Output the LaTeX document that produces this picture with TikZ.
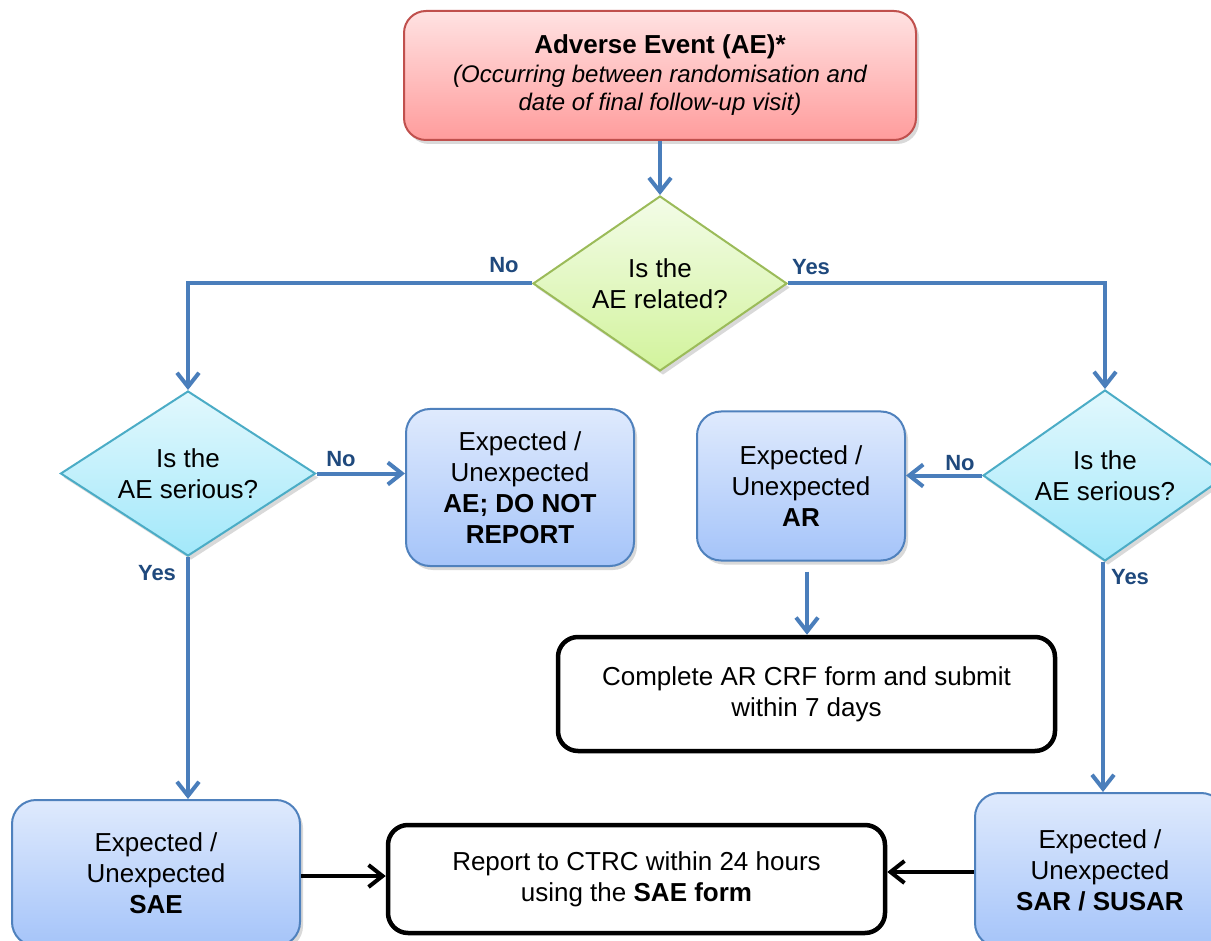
\documentclass[tikz,border=0pt]{standalone}
\usepackage{fontspec}
\setmainfont{Liberation Sans}
\usetikzlibrary{shapes.geometric,arrows.meta,shadows,calc}
\definecolor{redtop}{HTML}{FFE2E2}
\definecolor{redbot}{HTML}{FF9C9C}
\definecolor{redline}{HTML}{C0504D}
\definecolor{greentop}{HTML}{F3FCE8}
\definecolor{greenbot}{HTML}{D2F39C}
\definecolor{greenline}{HTML}{9BBB59}
\definecolor{cyantop}{HTML}{E2F8FD}
\definecolor{cyanbot}{HTML}{A2E8FA}
\definecolor{cyanline}{HTML}{4BACC6}
\definecolor{bluetop}{HTML}{DFEAFD}
\definecolor{bluebot}{HTML}{A5C4F9}
\definecolor{blueline}{HTML}{4F81BD}
\definecolor{arrowblue}{HTML}{4A7EBB}
\definecolor{labelblue}{HTML}{1F497D}
\tikzset{
  txt/.style={font=\fontsize{26}{31}\selectfont, align=center},
  shad/.style={drop shadow={shadow xshift=3pt, shadow yshift=-4pt, opacity=0.25, fill=black!60}},
  redbox/.style={txt, rounded corners=22pt, draw=redline, line width=2pt, top color=redtop, bottom color=redbot, shad},
  bluebox/.style={txt, rounded corners=24pt, draw=blueline, line width=2pt, top color=bluetop, bottom color=bluebot, shad},
  greendia/.style={txt, diamond, aspect=1.5, inner sep=0pt, draw=greenline, line width=2pt, top color=greentop, bottom color=greenbot, shad},
  cyandia/.style={txt, diamond, aspect=1.5, inner sep=0pt, draw=cyanline, line width=2pt, top color=cyantop, bottom color=cyanbot, shad},
  blackbox/.style={txt, rounded corners=20pt, draw=black, line width=4.5pt, fill=white},
  barrow/.style={draw=arrowblue, line width=4pt, -{Straight Barb[length=14pt,width=22pt]}},
  karrow/.style={draw=black, line width=4pt, -{Straight Barb[length=14pt,width=22pt]}},
  lbl/.style={font=\fontsize{22}{26}\selectfont\bfseries, text=labelblue},
}
\begin{document}
\begin{tikzpicture}[x=1pt,y=-1pt]
\useasboundingbox (0,0) rectangle (1211,941);

\node[redbox, minimum width=512pt, minimum height=129pt] (top) at (660,75.5)
  {\textbf{Adverse Event (AE)*}\\[-2pt]{\fontsize{24}{28}\selectfont\itshape (Occurring between randomisation and}\\[-3pt]{\fontsize{24}{28}\selectfont\itshape date of final follow-up visit)}};

\node[greendia, minimum width=254pt, minimum height=175pt] (rel) at (660,283.5) {Is the\\AE related?};
\node[cyandia, minimum width=255pt, minimum height=165pt] (lser) at (188,473.5) {Is the\\AE serious?};
\node[cyandia, minimum width=244pt, minimum height=171pt] (rser) at (1105,475.5) {Is the\\AE serious?};

\node[bluebox, minimum width=228pt, minimum height=157pt] (nrep) at (520,487.5) {Expected /\\Unexpected\\\textbf{AE; DO NOT}\\\textbf{REPORT}};
\node[bluebox, minimum width=208pt, minimum height=149pt] (ar) at (801,486) {Expected /\\Unexpected\\\textbf{AR}};
\node[bluebox, minimum width=288pt, minimum height=146pt] (sae) at (156,873) {Expected /\\Unexpected\\\textbf{SAE}};
\node[bluebox, minimum width=250pt, minimum height=154pt] (sar) at (1100,870) {Expected /\\Unexpected\\\textbf{SAR / SUSAR}};

\node[blackbox, minimum width=497pt, minimum height=114pt] (cmp) at (806.5,694) {Complete AR CRF form and submit\\within 7 days};
\node[blackbox, minimum width=497pt, minimum height=108pt] (rep) at (636.5,879) {Report to CTRC within 24 hours\\using the \textbf{SAE form}};

\draw[barrow] (top.south) -- (rel.north);
\draw[barrow] (rel.west) -| (lser.north);
\draw[barrow] (rel.east) -| (rser.north);
\draw[barrow] (lser.east) -- (lser.east -| nrep.west);
\draw[barrow] (rser.west) -- (rser.west -| ar.east);
\draw[barrow, shorten <=10pt] ([xshift=6pt]ar.south) -- ([xshift=6pt]ar.south |- cmp.north);
\draw[barrow] (lser.south) -- (lser.south |- sae.north);
\draw[barrow] ([xshift=-2pt]rser.south) -- ([xshift=-2pt]rser.south |- sar.north);
\draw[karrow] ([yshift=-3pt]sae.east) -- ([yshift=-3pt]sae.east -| rep.west);
\draw[karrow] ([yshift=-2pt]sar.west) -- ([yshift=-2pt]sar.west -| rep.east);

\node[lbl] (l1) at (504,265) {No};
\node[lbl] (l2) at (811,267) {Yes};
\node[lbl] (l3) at (341,459) {No};
\node[lbl] (l4) at (157,573) {Yes};
\node[lbl] (l5) at (960,463) {No};
\node[lbl] (l6) at (1130,577) {Yes};
\end{tikzpicture}
\end{document}
